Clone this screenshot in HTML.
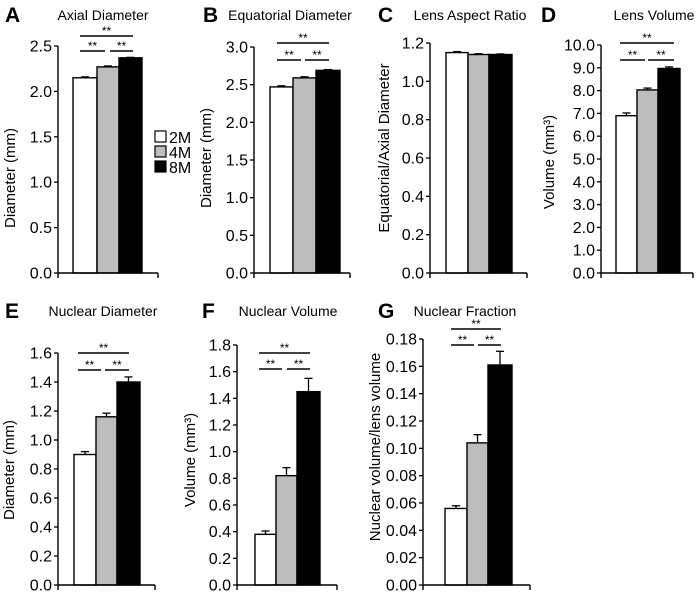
<!DOCTYPE html>
<html><head><meta charset="utf-8"><style>
body{margin:0;background:#fff}
svg{display:block;font-family:"Liberation Sans",Arial,sans-serif}
</style></head><body>
<svg id="fig" width="700" height="596" viewBox="0 0 700 596"></svg>
<script>
const groups = ["2M","4M","8M"];
const axialVals = [2.15,2.27,2.37];
const axialErr = [0.01,0.01,0.005];
const equatVals = [2.47,2.59,2.69];
const equatErr = [0.015,0.015,0.01];
const aspectVals = [1.15,1.14,1.14];
const aspectErr = [0.005,0.004,0.003];
const lensVolVals = [6.9,8.03,8.97];
const lensVolErr = [0.12,0.08,0.07];
const nucDiamVals = [0.90,1.16,1.40];
const nucDiamErr = [0.02,0.025,0.035];
const nucVolVals = [0.38,0.82,1.45];
const nucVolErr = [0.025,0.06,0.10];
const nucFracVals = [0.056,0.104,0.161];
const nucFracErr = [0.002,0.006,0.010];
const ticksA = ["0.0","0.5","1.0","1.5","2.0","2.5"];
const ticksB = ["0.0","0.5","1.0","1.5","2.0","2.5","3.0"];
const ticksC = ["0.0","0.2","0.4","0.6","0.8","1.0","1.2"];
const ticksD = ["0.0","1.0","2.0","3.0","4.0","5.0","6.0","7.0","8.0","9.0","10.0"];
const ticksE = ["0.0","0.2","0.4","0.6","0.8","1.0","1.2","1.4","1.6"];
const ticksF = ["0.0","0.2","0.4","0.6","0.8","1.0","1.2","1.4","1.6","1.8"];
const ticksG = ["0.00","0.02","0.04","0.06","0.08","0.10","0.12","0.14","0.16","0.18"];
const fills = ["#fff","#bdbdbd","#000"];
const NS="http://www.w3.org/2000/svg";
const svg=document.getElementById('fig');
function mk(tag,attrs,parent,text){const e=document.createElementNS(NS,tag);for(const k in attrs)e.setAttribute(k,attrs[k]);if(text!==undefined)e.textContent=text;(parent||svg).appendChild(e);return e;}

const panels=[
 {id:"a",letter:"A",title:"Axial Diameter",tx:103,ty:20,lx:5,ly:22,ax:58,top:46,bot:273,xend:158,bx:[73,97,119],bw:[24,22,23],vals:axialVals,err:axialErr,ticks:ticksA,ylab:"Diameter (mm)",ylx:15,yly:178,sig:[36,51],sx:[80,105,110,133]},
 {id:"b",letter:"B",title:"Equatorial Diameter",tx:290,ty:20,lx:203,ly:22,ax:254,top:47,bot:273,xend:350,bx:[270,293,316],bw:[23,23,24],vals:equatVals,err:equatErr,ticks:ticksB,ylab:"Diameter (mm)",ylx:211,yly:158,sig:[43,60],sx:[277,301,305,329]},
 {id:"c",letter:"C",title:"Lens Aspect Ratio",tx:470,ty:20,lx:378,ly:22,ax:430,top:43,bot:273,xend:527,bx:[446,468,489],bw:[22,21,23],vals:aspectVals,err:aspectErr,ticks:ticksC,ylab:"Equatorial/Axial Diameter",ylx:389,yly:148,sig:null},
 {id:"d",letter:"D",title:"Lens Volume",tx:654,ty:20,lx:541,ly:22,ax:601,top:45,bot:273,xend:693,bx:[616,637,658],bw:[21,21,22],vals:lensVolVals,err:lensVolErr,ticks:ticksD,ylab:"Volume (mm³)",ylx:554,yly:162,sig:[43,60],sx:[620,645,648,674]},
 {id:"e",letter:"E",title:"Nuclear Diameter",tx:103,ty:316,lx:5,ly:318,ax:58,top:353,bot:585,xend:155,bx:[74,96,117],bw:[22,21,23],vals:nucDiamVals,err:nucDiamErr,ticks:ticksE,ylab:"Diameter (mm)",ylx:14,yly:470,sig:[353,370],sx:[78,101,105,129]},
 {id:"f",letter:"F",title:"Nuclear Volume",tx:288,ty:316,lx:202,ly:318,ax:237,top:345,bot:585,xend:337,bx:[255,276,297],bw:[21,21,23],vals:nucVolVals,err:nucVolErr,ticks:ticksF,ylab:"Volume (mm³)",ylx:195,yly:460,sig:[353,369],sx:[259,282,287,310]},
 {id:"g",letter:"G",title:"Nuclear Fraction",tx:465,ty:316,lx:378,ly:318,ax:423,top:339,bot:585,xend:530,bx:[445,467,488],bw:[22,21,24],vals:nucFracVals,err:nucFracErr,ticks:ticksG,ylab:"Nuclear volume/lens volume",ylx:380,yly:447,sig:[329,345],sx:[451,474,478,501]}
];

panels.forEach(p=>{
 const g=mk('g',{});
 
 
 const max=parseFloat(p.ticks[p.ticks.length-1]);
 const y=v=>p.bot-(v/max)*(p.bot-p.top);
 const L=mk('text',{x:p.lx,y:p.ly,'font-size':21,'font-weight':'bold'},g,p.letter);
 
 
 const T=mk('text',{x:p.tx,y:p.ty,'font-size':14,'text-anchor':'middle'},g,p.title);
 
 
 p.vals.forEach((v,i)=>{
  const e=p.err[i];
  const x=p.bx[i]+p.bw[i]/2;
  mk('line',{x1:x,x2:x,y1:y(v),y2:y(v+e),stroke:'#000','stroke-width':1.3},g);
  mk('line',{x1:x-4,x2:x+4,y1:y(v+e),y2:y(v+e),stroke:'#000','stroke-width':1.3},g);
  const r=mk('rect',{x:p.bx[i],y:y(v),width:p.bw[i],height:p.bot-y(v),fill:fills[i],stroke:'#000','stroke-width':1.4},g);
  
  
 });
 const ya=mk('line',{x1:p.ax,x2:p.ax,y1:p.top,y2:p.bot,stroke:'#000','stroke-width':1.4},g);
 
 
 const xa=mk('line',{x1:p.ax,x2:p.xend,y1:p.bot,y2:p.bot,stroke:'#000','stroke-width':1.4},g);
 
 
 mk('line',{x1:p.ax,x2:p.ax,y1:p.bot,y2:p.bot+5,stroke:'#000','stroke-width':1.4},g);
 mk('line',{x1:p.xend,x2:p.xend,y1:p.bot,y2:p.bot+5,stroke:'#000','stroke-width':1.4},g);
 p.ticks.forEach(t=>{
  const ty=y(parseFloat(t));
  mk('line',{x1:p.ax-4,x2:p.ax,y1:ty,y2:ty,stroke:'#000','stroke-width':1.3},g);
  const tl=mk('text',{x:p.ax-6,y:ty+5.5,'font-size':16,'text-anchor':'end'},g,t);
  
  
 });
 const yl=mk('text',{x:0,y:0,'font-size':15,'text-anchor':'middle',transform:`translate(${p.ylx},${p.yly}) rotate(-90)`},g,p.ylab);
 
 
 if(p.sig){
  const [t1,t2]=p.sig,[a,b,c,d]=p.sx;
  mk('line',{x1:a,x2:d,y1:t1,y2:t1,stroke:'#000','stroke-width':1.4},g);
  mk('line',{x1:a,x2:b,y1:t2,y2:t2,stroke:'#000','stroke-width':1.4},g);
  mk('line',{x1:c,x2:d,y1:t2,y2:t2,stroke:'#000','stroke-width':1.4},g);
  mk('text',{x:(a+d)/2,y:t1-1,'font-size':12,'text-anchor':'middle'},g,'**');
  mk('text',{x:(a+b)/2,y:t2-1,'font-size':12,'text-anchor':'middle'},g,'**');
  mk('text',{x:(c+d)/2,y:t2-1,'font-size':12,'text-anchor':'middle'},g,'**');
 }
});
const lg=mk('g',{});


groups.forEach((gname,i)=>{
 const yy=131+i*15;
 const e=mk('g',{},lg);
 
 
 mk('rect',{x:155,y:yy,width:11,height:11,fill:fills[i],stroke:'#000','stroke-width':1.2},e);
 mk('text',{x:169,y:yy+12,'font-size':16},e,gname);
});
</script>
</body></html>
